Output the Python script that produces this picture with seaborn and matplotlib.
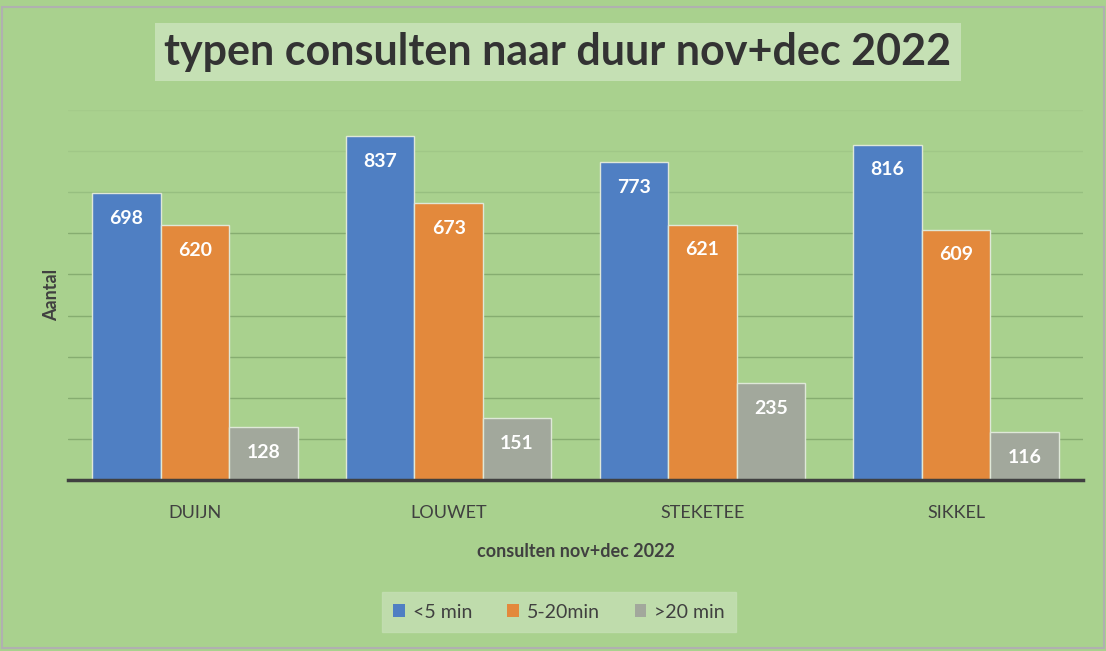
import pandas as pd
import matplotlib.pyplot as plt
import seaborn as sns
from matplotlib.patches import Rectangle

# data
artsen = ['DUIJN', 'LOUWET', 'STEKETEE', 'SIKKEL']
duur = ['<5 min', '5-20min', '>20 min']
kort = [698, 837, 773, 816]
midden = [620, 673, 621, 609]
lang = [128, 151, 235, 116]

df = pd.DataFrame({
    'arts': artsen * 3,
    'duur': [duur[0]] * 4 + [duur[1]] * 4 + [duur[2]] * 4,
    'aantal': kort + midden + lang,
})

groen = '#a9d18e'
lichtgroen = '#c5e0b4'
tekst = '#404040'
kleuren = ['#4f7fc3', '#e3893c', '#a2a89c']

sns.set_style('white')
plt.rcParams['font.family'] = ['Lato', 'DejaVu Sans']

fig = plt.figure(figsize=(11.06, 6.51), dpi=100)
fig.patch.set_facecolor(groen)
ax = fig.add_axes([68 / 1106, 1 - 480 / 651, (1083 - 68) / 1106, 370 / 651])
ax.set_facecolor(groen)

sns.barplot(data=df, x='arts', y='aantal', hue='duur', order=artsen, hue_order=duur,
            palette=kleuren, saturation=1, width=0.81, edgecolor='#dfe8d8', linewidth=1,
            ax=ax, legend=True)

ax.set_ylim(0, 900)
ax.set_yticks(range(0, 901, 100))
ax.set_yticklabels([])
ax.tick_params(axis='y', length=0)
ax.yaxis.grid(True, color='#86ad70', linewidth=1)
ax.set_axisbelow(True)
# upper grid lines fade out like in the original
for gl, kl in zip(ax.get_ygridlines()[-3:], ['#97bf80', '#a0c787', '#a4cb8a']):
    gl.set_color(kl)
for s in ['top', 'right', 'left']:
    ax.spines[s].set_visible(False)
ax.spines['bottom'].set_color(tekst)
ax.spines['bottom'].set_linewidth(2.5)
ax.tick_params(axis='x', length=0, labelsize=13, labelcolor=tekst, pad=18)

# value labels inside the top of each bar
for cont, waarden in zip(ax.containers, [kort, midden, lang]):
    for bar, w in zip(cont, waarden):
        ax.annotate(str(w), (bar.get_x() + bar.get_width() / 2, bar.get_height()),
                    xytext=(0, -12), textcoords='offset points', ha='center', va='top',
                    color='white', fontsize=14, fontweight='bold')

ax.set_xlabel('consulten nov+dec 2022', fontsize=13, fontweight='bold', color=tekst, labelpad=16)
ax.set_ylabel('Aantal', fontsize=13, fontweight='bold', color=tekst, labelpad=2)

leg = ax.legend(loc='center', bbox_to_anchor=(559 / 1106, 1 - 612 / 651),
                bbox_transform=fig.transFigure, ncol=3, frameon=True, fontsize=14,
                handlelength=0.6, handleheight=0.6, handletextpad=0.4, columnspacing=1.8,
                borderpad=0.6, fancybox=False)
leg.get_frame().set_facecolor(lichtgroen)
leg.get_frame().set_edgecolor(lichtgroen)
for t in leg.get_texts():
    t.set_color(tekst)
for h in leg.legend_handles:
    h.set_edgecolor('none')

fig.text(558 / 1106, 1 - 52 / 651, 'typen consulten naar duur nov+dec 2022', ha='center',
         va='center', fontsize=31, fontweight='bold', color='#333333',
         bbox=dict(boxstyle='square,pad=0.22', facecolor=lichtgroen, edgecolor='none'))

fig.patches.append(Rectangle((0.002, 0.004), 0.996, 0.985, transform=fig.transFigure,
                             fill=False, edgecolor='#b0b0b0', linewidth=1.5))

fig.savefig('out.png', dpi=100, facecolor=fig.get_facecolor())
